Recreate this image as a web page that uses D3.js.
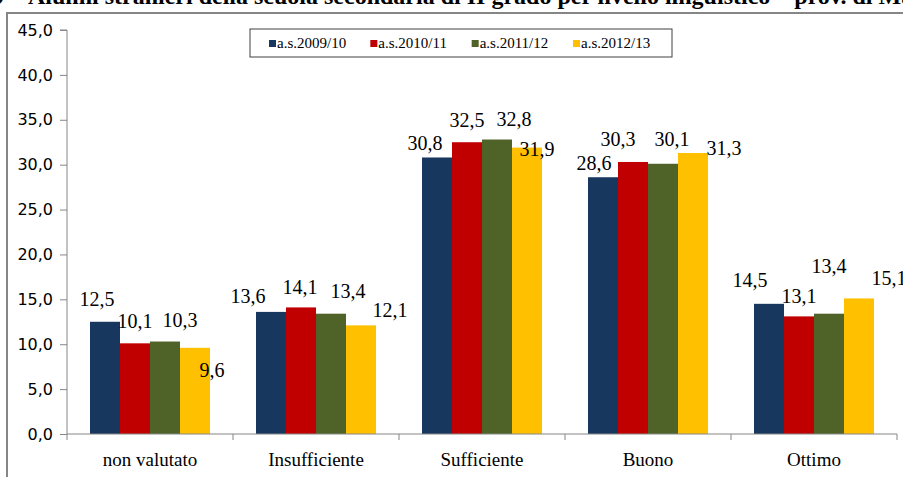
<!DOCTYPE html>
<html><head><meta charset="utf-8">
<script src="https://cdnjs.cloudflare.com/ajax/libs/d3/7.8.5/d3.min.js"></script>
<style>html,body{margin:0;padding:0;background:#fff;overflow:hidden}</style>
</head><body>
<script>
const categories = ["non valutato","Insufficiente","Sufficiente","Buono","Ottimo"];
const seriesNames = ["a.s.2009/10","a.s.2010/11","a.s.2011/12","a.s.2012/13"];
const s2009 = [12.5,13.6,30.8,28.6,14.5];
const s2010 = [10.1,14.1,32.5,30.3,13.1];
const s2011 = [10.3,13.4,32.8,30.1,13.4];
const s2012 = [9.6,12.1,31.9,31.3,15.1];
const yTicks = [0,5,10,15,20,25,30,35,40,45];
const titlePrefix = "Grafico 9 -";
const titleText = "Alunni stranieri della scuola secondaria di II grado per livello linguistico \u2013 prov. di Matematica";

const colors = ["#17375E","#C00000","#4F6228","#FFC000"];
// label nudges [dx,dy] per series, per category (layout only)
const labelNudge = [
  [[-8,0],[-23,7],[-12,9],[-9,9],[-19,-1]],
  [[0,1],[-1,3],[0,1],[-15,0],[0,3]],
  [[15,1],[17,0],[17,2],[9,-2],[0,-25]],
  [[17,45],[29,8],[10,24],[31,18],[30,3]]
];
const series = [s2009,s2010,s2011,s2012];

const W=903,H=477;
const svg=d3.select("body").append("svg").attr("width",W).attr("height",H);
const fmt = v => d3.format(".1f")(v).replace(".",",");

// title (cut off at top)
svg.append("text").attr("x",18).attr("y",4).attr("text-anchor","end")
  .attr("font-family","Liberation Serif").attr("font-weight","bold").attr("font-size",24)
  .attr("fill","#000").text(titlePrefix);
svg.append("text").attr("x",28).attr("y",4)
  .attr("font-family","Liberation Serif").attr("font-weight","bold").attr("font-size",24)
  .attr("fill","#000").text(titleText);

// outer frame
svg.append("rect").attr("x",7).attr("y",13).attr("width",W+20).attr("height",H+20)
  .attr("fill","none").attr("stroke","#868686").attr("stroke-width",2);

const x0=67,x1=897,yTop=30,yBot=434;
const x=d3.scaleBand().domain(categories).range([x0,x1]).paddingInner(0).paddingOuter(0);
const y=d3.scaleLinear().domain([0,45]).range([yBot,yTop]);
const groupPad = (x.bandwidth()-120)/2;
const xs=d3.scaleBand().domain(d3.range(4)).range([groupPad,groupPad+120]).padding(0);

// y axis
const yAx = svg.append("g").attr("transform",`translate(${x0},0)`)
  .call(d3.axisLeft(y).tickValues(yTicks).tickSize(7).tickPadding(7).tickFormat(fmt));
yAx.select(".domain").attr("stroke","#868686").attr("d",`M-7,${yTop}H0V${yBot}`);
yAx.selectAll(".tick line").attr("stroke","#868686");
yAx.selectAll(".tick text").attr("font-family","DejaVu Sans").attr("font-size",16).attr("fill","#000");

// bars
series.forEach((s,si)=>{
  svg.append("g").selectAll("rect").data(s).join("rect")
    .attr("x",(d,i)=>x(categories[i])+xs(si))
    .attr("width",xs.bandwidth())
    .attr("y",d=>y(d)).attr("height",d=>y(0)-y(d))
    .attr("fill",colors[si]);
});

// x axis
const xAx = svg.append("g").attr("transform",`translate(0,${yBot})`);
xAx.append("line").attr("x1",x0).attr("x2",x1).attr("y1",0).attr("y2",0).attr("stroke","#868686");
xAx.selectAll("line.t").data(categories.concat(["_end"])).join("line").attr("class","t")
  .attr("x1",(d,i)=>i<categories.length?x(d):x1).attr("x2",(d,i)=>i<categories.length?x(d):x1)
  .attr("y1",0).attr("y2",6).attr("stroke","#868686");
xAx.selectAll("text").data(categories).join("text")
  .attr("x",d=>x(d)+x.bandwidth()/2).attr("y",32)
  .attr("text-anchor","middle").attr("font-family","Liberation Serif").attr("font-size",19)
  .attr("fill","#000").text(d=>d);

// value labels
series.forEach((s,si)=>{
  svg.append("g").selectAll("text").data(s).join("text")
    .attr("x",(d,i)=>x(categories[i])+xs(si)+xs.bandwidth()/2+labelNudge[si][i][0])
    .attr("y",(d,i)=>y(d)-16+labelNudge[si][i][1])
    .attr("text-anchor","middle").attr("font-family","Liberation Serif").attr("font-size",20)
    .attr("fill","#000").text(fmt);
});

// legend
const lg=svg.append("g");
lg.append("rect").attr("x",250).attr("y",29).attr("width",422).attr("height",28)
  .attr("fill","#fff").attr("stroke","#404040").attr("stroke-width",1);
const lx=d3.scalePoint().domain(seriesNames).range([269,573]);
seriesNames.forEach((n,i)=>{
  lg.append("rect").attr("x",lx(n)).attr("y",40).attr("width",7).attr("height",7).attr("fill",colors[i]);
  lg.append("text").attr("x",lx(n)+8).attr("y",48).attr("font-family","Liberation Serif")
    .attr("font-size",15).attr("fill","#000").text(n);
});
</script>
</body></html>
